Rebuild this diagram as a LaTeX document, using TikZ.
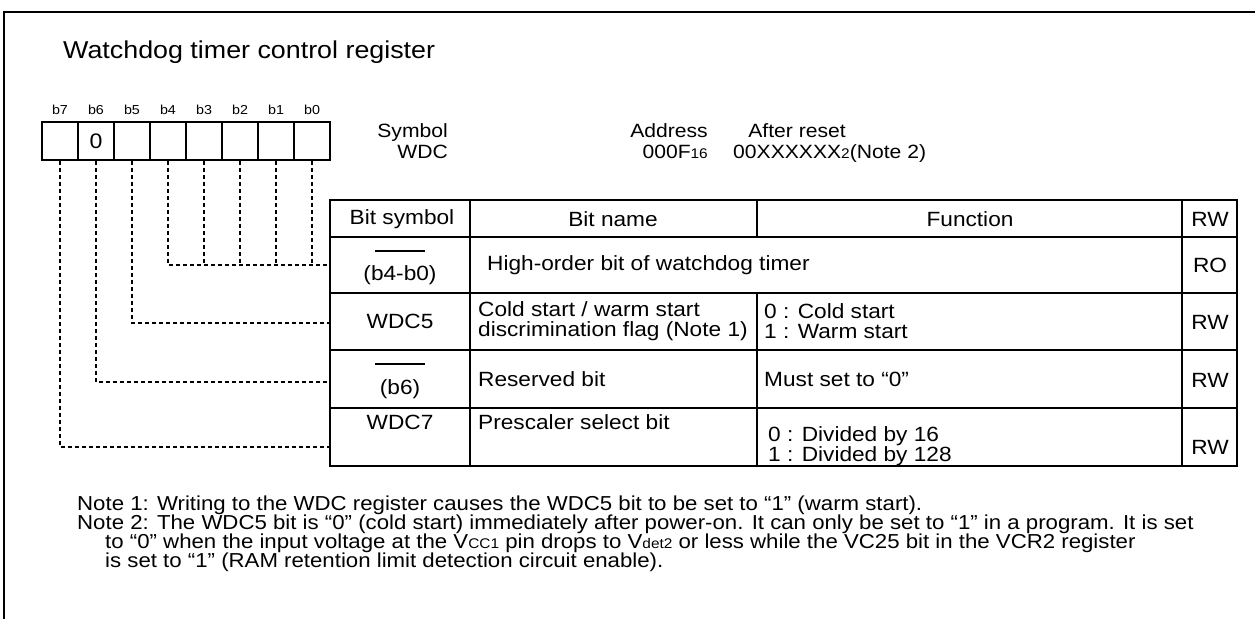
\documentclass[tikz,border=0pt]{standalone}
\usepackage{fontspec}
\setmainfont{Liberation Sans}[FakeStretch=1.1]
\usetikzlibrary{calc}
\newcommand\fs[1]{\fontsize{#1}{#1}\selectfont}
\newcommand\lo[2]{{\fs{#1}#2}}

\begin{document}
\begin{tikzpicture}[x=1pt,y=-1pt,
    txt/.style={inner sep=0pt,font=\fs{20.6}},
    hdr/.style={inner sep=0pt,font=\fs{19.2},anchor=base east},
    note/.style={inner sep=0pt,font=\fs{20.2},anchor=base west},
    cell/.style={draw,line width=1.5pt,minimum width=36pt,minimum height=38pt,inner sep=0pt,font=\fs{21}},
    link/.style={line width=1.3pt,dash pattern=on 4pt off 3pt},
    grid/.style={line width=1.5pt}]
    %%%%% START %%%%%
    \useasboundingbox (0,0) rectangle (1255,619);

    \draw[line width=2.5pt] (1255,12) -- (4,12) -- (4,619);
    \node[anchor=base west,inner sep=0pt,font=\fs{24.4}] (title) at (63,58) {Watchdog timer control register};

    % register bits
    \foreach \b [count=\i from 0] in {7,...,0} {
        \node[cell] (c\b) at (60+36*\i,141) {\ifnum\b=6 0\fi};
        \node[inner sep=0pt,font=\fs{13}] (l\b) at (60+36*\i,110) {b\b};
    }

    \node[hdr] (sym) at (448,137) {Symbol};
    \node[hdr] (symv) at (448,158) {WDC};
    \node[hdr] (adr) at (708,137) {Address};
    \node[hdr] (adrv) at (708,158) {000F\lo{14}{16}};
    \node[anchor=base,inner sep=0pt,font=\fs{19.2}] (rst) at (797,137) {After reset};
    \node[anchor=base west,inner sep=0pt,font=\fs{19.2}] (rstv) at (733,158) {00XXXXXX\lo{14}{2}(Note 2)};

    % table
    \draw[grid] (330,200) rectangle (1237,466);
    \draw[grid] (330,237) -- (1237,237);
    \draw[grid] (330,293) -- (1237,293);
    \draw[grid] (330,350) -- (1237,350);
    \draw[grid] (330,408) -- (1237,408);
    \draw[grid] (470,200) -- (470,466);
    \draw[grid] (757,200) -- (757,237);
    \draw[grid] (757,293) -- (757,466);
    \draw[grid] (1182,200) -- (1182,466);

    \node[txt] (hsym) at (402,219) {Bit symbol};
    \node[txt] (hname) at (613,219) {Bit name};
    \node[txt] (hfun) at (970,219) {Function};
    \node[txt] (hrw) at (1210,219) {RW};

    \draw[line width=1.3pt] (375,251) -- (425,251);
    \node[txt] (s1) at (400,275) {(b4-b0)};
    \node[txt,anchor=west] (n1) at (487,265) {High-order bit of watchdog timer};
    \node[txt] (w1) at (1210,265) {RO};

    \node[txt] (s2) at (400,321) {WDC5};
    \node[txt,anchor=west,align=left] (n2) at (478,321) {Cold start / warm start\\[0pt]discrimination flag (Note 1)};
    \node[txt,anchor=west,align=left] (f2) at (764,321) {0 : Cold start\\[0pt]1 : Warm start};
    \node[txt] (w2) at (1210,322) {RW};

    \draw[line width=1.3pt] (375,364) -- (425,364);
    \node[txt] (s3) at (400,389) {(b6)};
    \node[txt,anchor=west] (n3) at (478,379) {Reserved bit};
    \node[txt,anchor=west] (f3) at (764,379) {Must set to “0”};
    \node[txt] (w3) at (1210,380) {RW};

    \node[txt] (s4) at (400,422) {WDC7};
    \node[txt,anchor=west] (n4) at (478,422) {Prescaler select bit};
    \node[txt,anchor=west,align=left] (f4) at (768,446) {0 : Divided by 16\\[0pt]1 : Divided by 128};
    \node[txt] (w4) at (1210,447) {RW};

    % dashed links to the rows
    \coordinate (r1) at (330,265);
    \coordinate (r2) at (330,323);
    \coordinate (r3) at (330,382);
    \coordinate (r4) at (330,447);
    \draw[link] (c7.south) |- (r4);
    \draw[link] (c6.south) |- (r3);
    \draw[link] (c5.south) |- (r2);
    \draw[link] (c4.south) |- (r1);
    \foreach \b in {3,...,0}
        \draw[link] (c\b.south) -- (c\b.south |- r1);

    % notes
    \node[note] (nt1) at (77,510) {Note 1: Writing to the WDC register causes the WDC5 bit to be set to “1” (warm start).};
    \node[note] (nt2) at (77,529) {Note 2: The WDC5 bit is “0” (cold start) immediately after power-on. It can only be set to “1” in a program. It is set};
    \node[note] (nt3) at (105,548) {to “0” when the input voltage at the V\lo{14}{CC1} pin drops to V\lo{14}{det2} or less while the VC25 bit in the VCR2 register};
    \node[note] (nt4) at (105,567) {is set to “1” (RAM retention limit detection circuit enable).};
    %%%%% END %%%%%
\end{tikzpicture}
\end{document}
